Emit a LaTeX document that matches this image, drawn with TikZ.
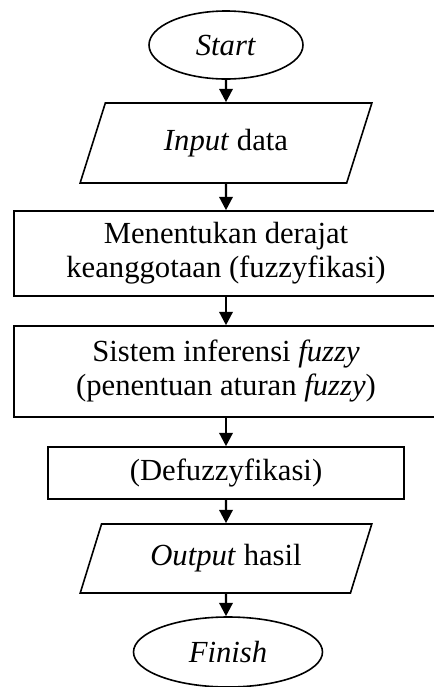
\documentclass[tikz,border=0pt]{standalone}
\usepackage{fontspec}
\setmainfont{Liberation Serif}
\usetikzlibrary{shapes.geometric,arrows.meta}

\tikzset{every picture/.style={line width=0.75pt}}
\tikzset{
  startstop/.style={ellipse, draw, line width=1.2pt, inner sep=0pt},
  io/.style={trapezium, trapezium left angle=65, trapezium right angle=115,
    trapezium stretches=true, draw, line width=1.2pt, inner sep=0pt, minimum width=219pt},
  process/.style={rectangle, draw, line width=1.2pt, align=center, inner sep=0pt},
  flow/.style={-{Triangle[length=10pt,width=10pt]}, line width=1.8pt},
}

\begin{document}
\begin{tikzpicture}[x=0.75pt,y=0.75pt,yscale=-1,xscale=1,
  every node/.style={font=\fontsize{23}{25.5}\selectfont}]
  \useasboundingbox (0,0) rectangle (433,687);

  %Shape: Ellipse [id:start]
  \node[startstop, minimum width=115.5pt, minimum height=51pt] (start) at (226,45) {\textit{Start}};
  %Shape: Parallelogram [id:input]
  \node[io, minimum height=60pt] (input) at (226,143) {\textit{Input} data};
  %Shape: Rectangle [id:fuzzifikasi]
  \node[process, minimum width=318pt, minimum height=63.75pt] (fuzzifikasi) at (226,253.5)
    {Menentukan derajat\\keanggotaan (fuzzyfikasi)};
  %Shape: Rectangle [id:inferensi]
  \node[process, minimum width=318pt, minimum height=68.25pt] (inferensi) at (226,371.5)
    {Sistem inferensi \textit{fuzzy}\\(penentuan aturan \textit{fuzzy})};
  %Shape: Rectangle [id:defuzzifikasi]
  \node[process, minimum width=267pt, minimum height=39pt] (defuzzifikasi) at (226,473) {(Defuzzyfikasi)};
  %Shape: Parallelogram [id:output]
  \node[io, minimum height=51.75pt] (output) at (226,558.5) {\textit{Output} hasil};
  %Shape: Ellipse [id:finish]
  \node[startstop, minimum width=141.75pt, minimum height=52.5pt] (finish) at (228,652) {\textit{Finish}};

  %Straight Lines
  \draw[flow] (start) -- (input);
  \draw[flow] (input) -- (fuzzifikasi);
  \draw[flow] (fuzzifikasi) -- (inferensi);
  \draw[flow] (inferensi) -- (defuzzifikasi);
  \draw[flow] (defuzzifikasi) -- (output);
  \draw[flow] (output) -- (output |- finish.north);
\end{tikzpicture}
\end{document}
